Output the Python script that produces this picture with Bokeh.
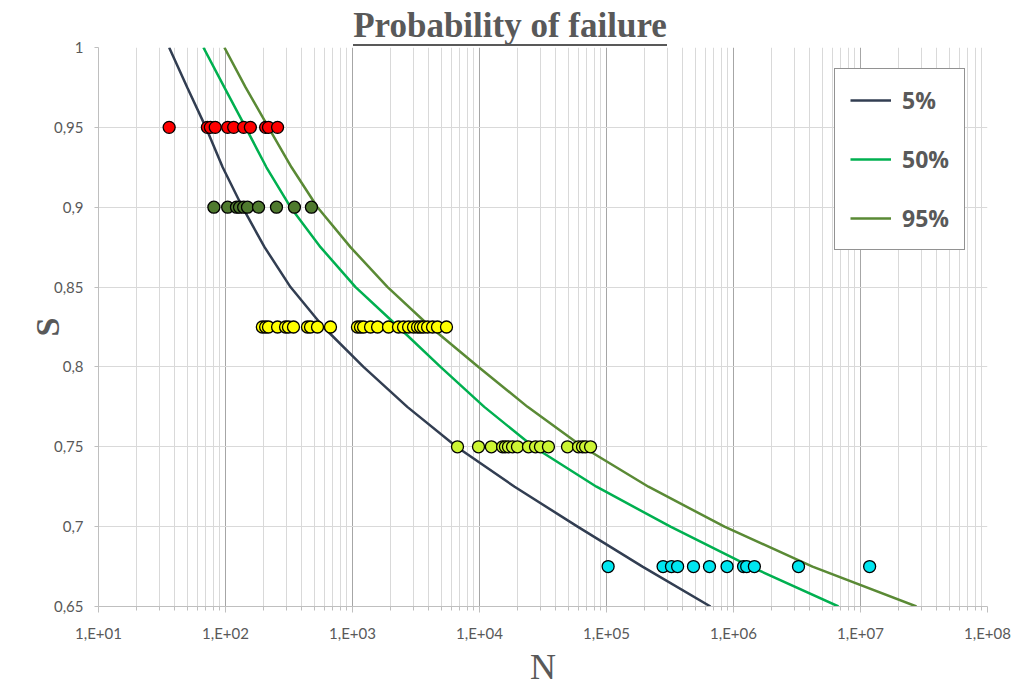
from bokeh.plotting import figure
from bokeh.models import FixedTicker, Legend, LegendItem, Div
from bokeh.layouts import column
from bokeh.embed import file_html
from bokeh.resources import INLINE

# ---------------- data ----------------
title_text = "Probability of failure"
x_label = "N"
y_label = "S"

x_ticks = [1e1, 1e2, 1e3, 1e4, 1e5, 1e6, 1e7, 1e8]
x_tick_labels = ["1,E+01", "1,E+02", "1,E+03", "1,E+04", "1,E+05", "1,E+06", "1,E+07", "1,E+08"]
y_ticks = [0.65, 0.7, 0.75, 0.8, 0.85, 0.9, 0.95, 1.0]
y_tick_labels = ["0,65", "0,7", "0,75", "0,8", "0,85", "0,9", "0,95", "1"]

# probability curves (S vs N)
curve_S = [1.0, 0.975, 0.95, 0.925, 0.9, 0.875, 0.85, 0.825, 0.8, 0.775, 0.75, 0.725, 0.7, 0.675, 0.65]
n_5 = [36, 50, 70, 95, 136, 203, 325, 590, 1220, 2700, 6590, 18900, 59200, 192000, 659000]
n_50 = [67, 98, 144, 210, 325, 560, 1057, 2300, 4930, 10900, 26600, 83400, 319000, 1360000, 6710000]
n_95 = [98, 144, 218, 331, 530, 964, 1890, 4110, 9820, 23900, 64700, 214000, 849000, 4190000, 27600000]
curve_labels = ["5%", "50%", "95%"]

# test results
s_red = 0.95
n_red = [36, 72, 76, 83, 104, 116, 139, 157, 207, 218, 257]
s_dkgreen = 0.9
n_dkgreen = [81, 104, 122, 129, 139, 149, 182, 252, 349, 475]
s_yellow = 0.825
n_yellow = [195, 207, 218, 257, 297, 313, 343, 442, 467, 530, 671,
            1094, 1156, 1222, 1387, 1575, 1921, 2301, 2522, 2763, 3023, 3251,
            3430, 3622, 3898, 4266, 4668, 5495]
s_lime = 0.75
n_lime = [6710, 9820, 12400, 15200, 16000, 16900, 18200, 19900, 24300, 27600,
          30200, 34900, 49300, 60200, 64700, 68400, 74900]
s_cyan = 0.675
n_cyan = [103000, 279000, 325000, 363000, 484000, 647000, 890000, 1200000,
          1270000, 1460000, 3250000, 11800000]

# ---------------- styling ----------------
GRAY = "#595959"
title_div = Div(
    text=(
        '<div style="width:1014px;box-sizing:border-box;padding-left:6px;text-align:center;'
        'font-size:35px;line-height:34px;padding-top:8px;">'
        '<span style="display:inline-block;font-family:\'Liberation Serif\';font-weight:bold;'
        'font-size:35px;line-height:34px;color:#595959;border-bottom:2px solid #595959;'
        'padding-bottom:1px;">' + title_text + '</span></div>'
    ),
    width=1014, height=30, margin=(0, 0, 0, 0),
    styles={"overflow": "visible", "z-index": "5"},
)

p = figure(width=1014, height=660, x_axis_type="log", x_range=(10, 1e8), y_range=(0.65, 1.0),
           output_backend="svg", toolbar_location=None,
           min_border_left=98, min_border_right=27, min_border_top=17, min_border_bottom=84)
p.border_fill_color = None
p.background_fill_color = "white"
p.outline_line_color = None

x_minor = [k * 10 ** d for d in range(1, 8) for k in range(2, 10)]
p.xaxis.ticker = FixedTicker(ticks=x_ticks, minor_ticks=x_minor)
p.xaxis.major_label_overrides = dict(zip(x_ticks, x_tick_labels))
p.yaxis.ticker = FixedTicker(ticks=y_ticks)
p.yaxis.major_label_overrides = dict(zip(y_ticks, y_tick_labels))

p.xgrid.grid_line_color = "#A6A6A6"
p.xgrid.minor_grid_line_color = "#D9D9D9"
p.ygrid.grid_line_color = "#D9D9D9"

for ax in (p.xaxis, p.yaxis):
    ax.axis_line_color = "#BFBFBF"
    ax.major_tick_line_color = "#BFBFBF"
    ax.minor_tick_line_color = "#BFBFBF"
    ax.major_tick_in = 0
    ax.minor_tick_in = 0
    ax.major_label_text_color = GRAY
    ax.major_label_text_font = "Lato"
    ax.axis_label_text_font = "Liberation Serif"
    ax.axis_label_text_font_style = "normal"
    ax.axis_label_text_color = GRAY

p.xaxis.major_tick_out = 6
p.xaxis.minor_tick_out = 4
p.xaxis.major_label_text_font_size = "15px"
p.xaxis.major_label_standoff = 11
p.xaxis.axis_label = x_label
p.xaxis.axis_label_text_font_size = "36px"
p.xaxis.axis_label_standoff = 2

p.yaxis.major_tick_out = 4
p.yaxis.minor_tick_line_color = None
p.yaxis.major_label_text_font_size = "15px"
p.yaxis.major_label_standoff = 11
p.yaxis.axis_label = y_label
p.yaxis.axis_label_text_font_size = "34px"
p.yaxis.axis_label_text_font_style = "bold"
p.yaxis.axis_label_standoff = -15

line_colors = ["#323E52", "#00B050", "#5A8A35"]
renderers = []
for ns, col in zip([n_5, n_50, n_95], line_colors):
    renderers.append(p.line(ns, curve_S, line_color=col, line_width=2.5))

point_sets = [
    (n_red, s_red, "#FF0000"),
    (n_dkgreen, s_dkgreen, "#4F7A2E"),
    (n_yellow, s_yellow, "#FFFF00"),
    (n_lime, s_lime, "#CCF533"),
    (n_cyan, s_cyan, "#00E6F0"),
]
for ns, s, col in point_sets:
    p.scatter(ns, [s] * len(ns), size=12, fill_color=col, line_color="black", line_width=1.3)

legend = Legend(
    items=[LegendItem(label=lab, renderers=[r]) for lab, r in zip(curve_labels, renderers)],
    location=(736, 356),
    label_text_font="Open Sans", label_text_font_style="bold", label_text_font_size="23px",
    label_text_color=GRAY, glyph_width=41, glyph_height=26, label_height=26,
    label_standoff=11, spacing=27, padding=15, margin=0,
    border_line_color="#262626", border_line_width=1,
    background_fill_color="white", background_fill_alpha=1,
)
p.add_layout(legend)

layout = column(title_div, p, spacing=0)
open("out.html", "w").write(file_html(layout, INLINE))
